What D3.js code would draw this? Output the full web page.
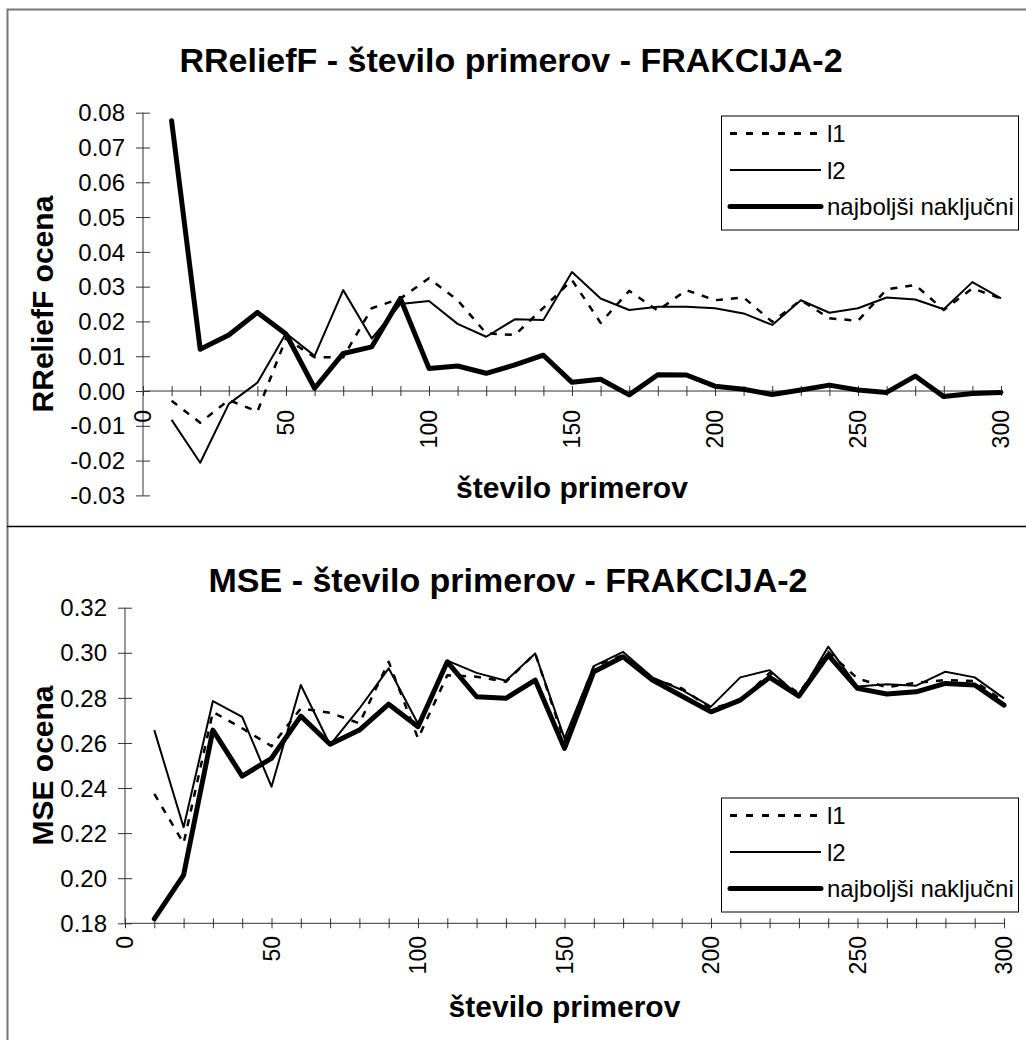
<!DOCTYPE html>
<html>
<head>
<meta charset="utf-8">
<script src="https://cdn.jsdelivr.net/npm/d3@7"></script>
<style>
body { margin: 0; background: #fff; }
text { font-family: Arial, "Liberation Sans", sans-serif; fill: #000; }
</style>
</head>
<body>
<svg id="chart" width="1026" height="1040"></svg>
<script>
// x values: number of examples
const primeri = d3.range(10, 301, 10);

// RReliefF scores
const reliefL1 = [-0.0028, -0.0091, -0.0026, -0.0059, 0.0151, 0.0097, 0.0097, 0.0238, 0.0266, 0.0324,
  0.0261, 0.0166, 0.0161, 0.0239, 0.0319, 0.0196, 0.0288, 0.0231, 0.0290, 0.0261,
  0.0269, 0.0199, 0.0261, 0.0209, 0.0202, 0.0292, 0.0305, 0.0233, 0.0295, 0.0266];
const reliefL2 = [-0.0083, -0.0206, -0.0037, 0.0024, 0.0166, 0.0101, 0.0290, 0.0151, 0.0250, 0.0259,
  0.0193, 0.0156, 0.0206, 0.0204, 0.0342, 0.0266, 0.0233, 0.0242, 0.0242, 0.0238,
  0.0223, 0.0190, 0.0261, 0.0225, 0.0238, 0.0269, 0.0263, 0.0235, 0.0313, 0.0266];
const reliefBest = [0.0777, 0.0120, 0.0161, 0.0226, 0.0164, 0.0008, 0.0108, 0.0127, 0.0266, 0.0065,
  0.0072, 0.0051, 0.0075, 0.0103, 0.0025, 0.0034, -0.0011, 0.0047, 0.0046, 0.0014,
  0.0005, -0.0010, 0.0003, 0.0017, 0.0003, -0.0004, 0.0043, -0.0016, -0.0007, -0.0004];

// MSE scores
const mseL1 = [0.2374, 0.2155, 0.2738, 0.2665, 0.2586, 0.2753, 0.2734, 0.2687, 0.2960, 0.2620,
  0.2900, 0.2894, 0.2871, 0.2997, 0.2605, 0.2940, 0.2990, 0.2885, 0.2842, 0.2753,
  0.2785, 0.2911, 0.2820, 0.3004, 0.2886, 0.2847, 0.2867, 0.2879, 0.2874, 0.2783];
const mseL2 = [0.2657, 0.2226, 0.2786, 0.2716, 0.2406, 0.2857, 0.2591, 0.2753, 0.2931, 0.2685,
  0.2965, 0.2911, 0.2876, 0.2997, 0.2620, 0.2941, 0.3004, 0.2891, 0.2835, 0.2761,
  0.2891, 0.2923, 0.2808, 0.3027, 0.2850, 0.2860, 0.2854, 0.2916, 0.2891, 0.2798];
const mseBest = [0.1820, 0.2014, 0.2657, 0.2453, 0.2532, 0.2719, 0.2594, 0.2657, 0.2772, 0.2672,
  0.2960, 0.2805, 0.2798, 0.2879, 0.2576, 0.2916, 0.2982, 0.2879, 0.2808, 0.2738,
  0.2790, 0.2891, 0.2808, 0.2990, 0.2842, 0.2817, 0.2827, 0.2864, 0.2857, 0.2768];

const seriesNames = ["l1", "l2", "najboljši naključni"];
const xTicks = [0, 50, 100, 150, 200, 250, 300];
const reliefTicks = d3.range(-0.03, 0.0801, 0.01);
const mseTicks = d3.range(0.18, 0.3201, 0.02);

const svg = d3.select("#chart");

// frame around both charts
svg.append("rect")
  .attr("x", 7.5).attr("y", 9.5)
  .attr("width", 1030).attr("height", 1040)
  .attr("fill", "none").attr("stroke", "#777").attr("stroke-width", 2);
svg.append("line")
  .attr("x1", 7).attr("x2", 1026).attr("y1", 526.5).attr("y2", 526.5)
  .attr("stroke", "#000").attr("stroke-width", 1.5);

const lineStyles = [
  {width: 2.5, dash: "7,8", cap: "butt"},
  {width: 2, dash: null, cap: "butt"},
  {width: 5, dash: null, cap: "round"}
];

function drawPanel(cfg) {
  let x = d3.scaleLinear().domain([0, 300]).range([cfg.left, cfg.right]);
  let y = d3.scaleLinear().domain(cfg.yDomain).range([cfg.bottom, cfg.top]);
  let axisY = y(cfg.xAxisAt);

  // title
  svg.append("text")
    .attr("x", cfg.titleX).attr("y", cfg.titleY)
    .attr("text-anchor", "middle")
    .style("font-size", "34px").style("font-weight", "bold")
    .text(cfg.title);

  // y axis: ticks cross the line
  let gy = svg.append("g").attr("transform", `translate(${cfg.left + 7},0)`);
  gy.call(d3.axisLeft(y).tickValues(cfg.yTicks).tickSize(14).tickFormat(""));
  gy.select(".domain").remove();
  gy.selectAll("line").attr("stroke", "#333");
  svg.append("line")
    .attr("x1", cfg.left).attr("x2", cfg.left)
    .attr("y1", y(cfg.yDomain[0])).attr("y2", y(cfg.yDomain[1]))
    .attr("stroke", "#333");
  svg.append("g").selectAll("text").data(cfg.yTicks).enter()
    .append("text")
    .attr("x", cfg.yLabelX)
    .attr("y", d => y(d))
    .attr("dy", "0.36em")
    .attr("text-anchor", "end")
    .style("font-size", "24px")
    .text(d => d3.format(".2f")(d).replace("−", "-"));

  // x axis at the given y value
  let gx = svg.append("g").attr("transform", `translate(0,${axisY - 5})`);
  gx.call(d3.axisBottom(x).tickValues(d3.range(0, 301, 10)).tickSize(10).tickFormat(""));
  gx.select(".domain").remove();
  gx.selectAll("line").attr("stroke", "#333");
  svg.append("line")
    .attr("x1", x(0)).attr("x2", x(300))
    .attr("y1", axisY).attr("y2", axisY)
    .attr("stroke", "#333");
  svg.append("g").selectAll("text").data(xTicks).enter()
    .append("text")
    .attr("transform", d => `translate(${x(d)},${cfg.xLabelTop}) rotate(-90)`)
    .attr("dy", "0.36em")
    .attr("text-anchor", "end")
    .style("font-size", "23px")
    .text(d => d);

  // axis titles
  svg.append("text")
    .attr("x", (cfg.left + cfg.right) / 2).attr("y", cfg.xTitleY)
    .attr("text-anchor", "middle")
    .style("font-size", "30px").style("font-weight", "bold")
    .text("število primerov");
  svg.append("text")
    .attr("transform", `translate(53,${(cfg.top + cfg.bottom) / 2}) rotate(-90)`)
    .attr("text-anchor", "middle")
    .style("font-size", "30px").style("font-weight", "bold")
    .text(cfg.yTitle);

  // series lines
  let line = d3.line().x((d, i) => x(primeri[i])).y(d => y(d));
  cfg.series.forEach(function(vals, i) {
    let st = lineStyles[i];
    svg.append("path")
      .datum(vals)
      .attr("d", line)
      .attr("fill", "none")
      .attr("stroke", "#000")
      .attr("stroke-width", st.width)
      .attr("stroke-dasharray", st.dash)
      .attr("stroke-linecap", st.cap)
      .attr("stroke-linejoin", "round");
  });

  // legend
  let lg = svg.append("g");
  lg.append("rect")
    .attr("x", 721.5).attr("y", cfg.legendTop + 0.5)
    .attr("width", 297).attr("height", 114)
    .attr("fill", "#fff").attr("stroke", "#000");
  seriesNames.forEach(function(name, i) {
    let st = lineStyles[i];
    let ly = cfg.legendTop + 18 + i * 36.5;
    lg.append("line")
      .attr("x1", 730).attr("x2", 821).attr("y1", ly).attr("y2", ly)
      .attr("stroke", "#000")
      .attr("stroke-width", i == 0 ? 3 : st.width)
      .attr("stroke-dasharray", i == 0 ? "7,9" : null)
      .attr("stroke-linecap", i == 2 ? "round" : "butt");
    lg.append("text")
      .attr("x", 827).attr("y", ly)
      .attr("dy", "0.36em")
      .style("font-size", "24px")
      .text(name);
  });
}

drawPanel({
  title: "RReliefF - število primerov - FRAKCIJA-2",
  titleX: 511, titleY: 72,
  left: 143, right: 1001, top: 112.7, bottom: 495.4,
  yDomain: [-0.03, 0.08], yTicks: reliefTicks, xAxisAt: 0,
  yLabelX: 125, xLabelTop: 410, xTitleY: 498,
  yTitle: "RReliefF ocena",
  series: [reliefL1, reliefL2, reliefBest],
  legendTop: 115.5
});

drawPanel({
  title: "MSE - število primerov - FRAKCIJA-2",
  titleX: 508, titleY: 592,
  left: 125, right: 1004, top: 607.7, bottom: 923.3,
  yDomain: [0.18, 0.32], yTicks: mseTicks, xAxisAt: 0.18,
  yLabelX: 107, xLabelTop: 936, xTitleY: 1017,
  yTitle: "MSE ocena",
  series: [mseL1, mseL2, mseBest],
  legendTop: 797.5
});
</script>
</body>
</html>
